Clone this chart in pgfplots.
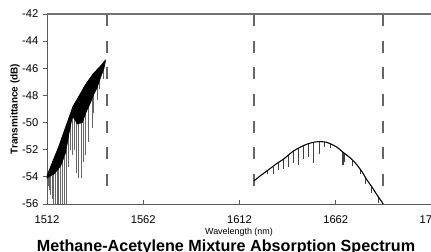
\documentclass[border=0pt]{standalone}
\usepackage{fontspec}
\setmainfont{Liberation Sans}
\usepackage{pgfplots}
\pgfplotsset{compat=1.18}
\begin{document}
\begin{tikzpicture}
\begin{axis}[
  at={(0,0)}, anchor=south west,
  scale only axis, width=288.75pt, height=142.5pt,
  xmin=1512, xmax=1712, ymin=-56, ymax=-42,
  xtick={1512,1562,1612,1662,1712},
  ytick={-56,-54,-52,-50,-48,-46,-44,-42},
  axis line style={black!65, line width=0.7pt},
  tick style={black!65, line width=0.6pt},
  major tick length=3pt,
  xtick align=inside, ytick align=outside,
  xtick pos=bottom, ytick pos=left,
  tick label style={font=\fontsize{8.4}{10}\selectfont},
  /pgf/number format/assume math mode=true,
  /pgf/number format/1000 sep={},
  xticklabel style={yshift=-5pt},
  clip=true,
]
% dashed guides
\addplot[black!60, line width=1.1pt, dash pattern=on 9pt off 11pt] coordinates {(1543.2,-42) (1543.2,-55.6)};
\addplot[black!60, line width=1.1pt, dash pattern=on 9pt off 11pt] coordinates {(1619.5,-42) (1619.5,-55.6)};
\addplot[black!60, line width=1.1pt, dash pattern=on 9pt off 11pt] coordinates {(1686.5,-42) (1686.5,-55.6)};
% methane spikes
\addplot[draw=none, mark=none, error bars/.cd, y dir=minus, y explicit, error mark=none,
  error bar style={black!60, line width=0.75pt}] coordinates {
(1512.6,-54.1) -= (0,0.6)
(1513.3,-54.0) -= (0,1.0)
(1514.0,-54.0) -= (0,1.3)
(1514.8,-53.9) -= (0,1.7)
(1515.6,-53.8) -= (0,2.2)
(1516.4,-53.7) -= (0,2.3)
(1517.3,-53.5) -= (0,2.5)
(1518.2,-53.4) -= (0,2.6)
(1519.1,-53.2) -= (0,2.8)
(1520.1,-52.8) -= (0,3.2)
(1521.0,-52.5) -= (0,3.5)
(1522.0,-52.0) -= (0,4.0)
(1523.4,-50.8) -= (0,2.5)
(1524.4,-50.1) -= (0,1.9)
(1525.3,-49.6) -= (0,2.8)
(1526.3,-49.7) -= (0,2.3)
(1527.4,-50.0) -= (0,3.7)
(1528.6,-50.1) -= (0,4.0)
(1529.8,-50.0) -= (0,4.1)
(1530.9,-49.8) -= (0,3.1)
(1532.1,-49.3) -= (0,3.1)
(1533.8,-48.8) -= (0,2.6)
(1535.5,-48.2) -= (0,2.2)
(1536.4,-47.9) -= (0,1.4)
(1538.1,-47.4) -= (0,0.9)
(1539.5,-46.8) -= (0,0.7)
(1541.2,-46.1) -= (0,0.7)
};
% methane dense band
\addplot[fill=black, draw=black, line width=0.5pt] coordinates {
(1512,-53.9) (1514,-53.2) (1516,-52.5) (1518,-51.8) (1520,-51.0) (1522,-50.2)
(1524,-49.4) (1525.5,-48.8) (1528,-48.2) (1530,-47.7) (1532,-47.2) (1534,-46.8)
(1536,-46.4) (1538,-46.1) (1540,-45.8) (1542.3,-45.4)
(1542.3,-45.5) (1541.6,-46.0) (1540,-46.6) (1538.1,-47.4) (1536,-48.0) (1534.7,-48.5)
(1532.1,-49.3) (1530.3,-50.0) (1527.7,-50.1) (1526.2,-49.7) (1525.1,-49.6) (1523.4,-50.8)
(1521.7,-52.2) (1519.1,-53.2) (1515.6,-53.8) (1512,-54.1)
} --cycle;
% acetylene spikes
\addplot[draw=none, mark=none, error bars/.cd, y dir=minus, y explicit, error mark=none,
  error bar style={black!75, line width=0.7pt}] coordinates {
(1626.5,-53.5) -= (0,0.3)
(1629.6,-53.25) -= (0,0.55)
(1632.4,-52.95) -= (0,0.55)
(1635.0,-52.7) -= (0,0.7)
(1637.6,-52.4) -= (0,0.9)
(1640.2,-52.1) -= (0,0.9)
(1642.8,-51.9) -= (0,1.2)
(1645.4,-51.7) -= (0,1.0)
(1648.0,-51.55) -= (0,0.95)
(1650.6,-51.45) -= (0,1.55)
(1653.4,-51.4) -= (0,0.9)
(1656.2,-51.42) -= (0,0.4)
(1659.0,-51.6) -= (0,0.3)
(1665.3,-52.15) -= (0,0.75)
(1665.7,-52.2) -= (0,0.9)
(1666.1,-52.25) -= (0,0.85)
(1666.5,-52.3) -= (0,0.6)
(1670.5,-52.8) -= (0,0.4)
(1674.6,-53.45) -= (0,0.35)
(1677.6,-54.1) -= (0,0.4)
(1680.8,-54.75) -= (0,0.45)
(1684.2,-55.45) -= (0,0.45)
};
% acetylene envelope
\addplot[black, line width=0.8pt, smooth] coordinates {
(1619.5,-54.3) (1623,-53.9) (1627.8,-53.4) (1631,-53.05) (1634.8,-52.7) (1640,-52.1)
(1645.2,-51.7) (1649,-51.5) (1653,-51.4) (1657.3,-51.45) (1659,-51.55) (1662.5,-51.8)
(1665.9,-52.2) (1669.5,-52.6) (1672.9,-53.1) (1675.5,-53.6) (1678.1,-54.2)
(1680.8,-54.75) (1683.3,-55.3) (1685,-55.65) (1686.7,-56.0)
};
\end{axis}
\draw[black!55, line width=0.9pt] (0,142.5pt) -- (300pt,142.5pt);
\node[rotate=90, font=\bfseries\fontsize{7.5}{9}\selectfont] at (-24pt,71.25pt) {Transmittance (dB)};
\node[font=\fontsize{6.7}{8}\selectfont] at (144pt,-21pt) {Wavelength (nm)};
\node[anchor=base, font=\bfseries\fontsize{12.1}{14}\selectfont] at (134.25pt,-35.5pt) {Methane-Acetylene Mixture Absorption Spectrum};
\pgfresetboundingbox
\path[use as bounding box] (-35.25pt,-35.25pt) rectangle (288pt,153pt);
\end{tikzpicture}
\end{document}
